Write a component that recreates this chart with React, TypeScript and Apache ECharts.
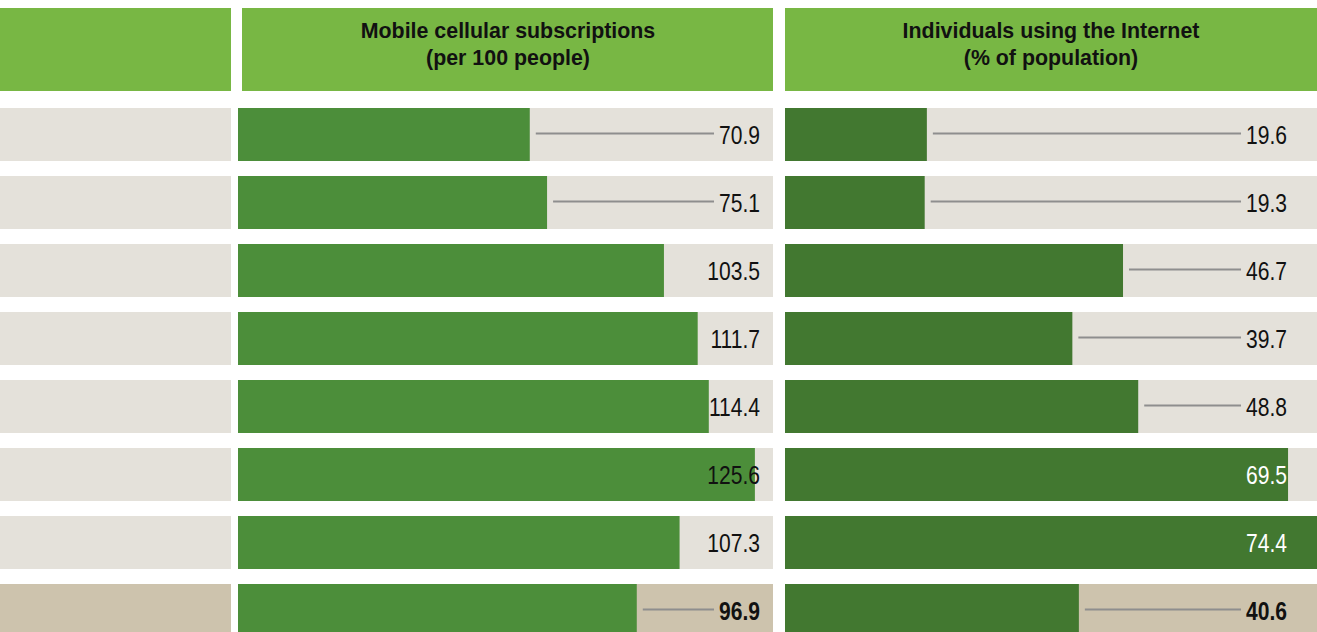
import React, { useEffect, useRef } from "react";
import * as echarts from "echarts";

// Row identifiers (the label column is blank in the reference)
const categories = ["r1", "r2", "r3", "r4", "r5", "r6", "r7", "r8"];
const mobileSubscriptions = [70.9, 75.1, 103.5, 111.7, 114.4, 125.6, 107.3, 96.9];
const internetUsers = [19.6, 19.3, 46.7, 39.7, 48.8, 69.5, 74.4, 40.6];
const columnTitles = [
  "Mobile cellular subscriptions\n(per 100 people)",
  "Individuals using the Internet\n(% of population)",
];
const summaryRow = 7;
const mobileAxisMax = 130;
const internetAxisMax = 73.5;

const FONT_FAMILY = '"Liberation Sans", Arial, sans-serif';
const LABEL_SIZE = 26;
const NARROW = 0.81;

const HEADER_GREEN = "#78b744";
const ROW_GRAY = "#e4e1da";
const ROW_SUMMARY = "#cdc3ad";
const BAR_MOBILE = "#4c8e3a";
const BAR_INTERNET = "#427830";

let measureCtx: CanvasRenderingContext2D | null = null;
function measure(text: string, bold: boolean): number {
  if (!measureCtx) measureCtx = document.createElement("canvas").getContext("2d");
  if (!measureCtx) return text.length * 11;
  measureCtx.font = `${bold ? "bold " : ""}${LABEL_SIZE}px ${FONT_FAMILY}`;
  return measureCtx.measureText(text).width * NARROW;
}

export default function App() {
  const ref = useRef<HTMLDivElement>(null);

  useEffect(() => {
    document.body.style.margin = "0";
    if (!ref.current) return;
    const chart = echarts.init(ref.current, null, { renderer: "svg" });

    const gridTop = 100.5;
    const gridHeight = 544;
    const grids = [
      { left: 0, width: 231 },
      { left: 238, width: 535 },
      { left: 785, width: 532 },
    ];
    const maxes = [1, mobileAxisMax, internetAxisMax];

    const rowColor = (i: number) => (i === summaryRow ? ROW_SUMMARY : ROW_GRAY);

    const labelSeries = (gi: number, values: number[], rightPad: number, insideColor: string) => ({
      type: "custom",
      xAxisIndex: gi,
      yAxisIndex: gi,
      silent: true,
      z: 5,
      clip: false,
      data: values.map((v, i) => [v, i]),
      encode: { x: 0, y: 1 },
      renderItem: (params: any, api: any) => {
        const v = api.value(0) as number;
        const i = api.value(1) as number;
        const cs = params.coordSys;
        const end = api.coord([v, i]);
        const barEnd = Math.min(end[0], cs.x + cs.width);
        const right = cs.x + cs.width - rightPad;
        const bold = i === summaryRow;
        const text = v.toFixed(1);
        const w = measure(text, bold);
        const labelLeft = right - w;
        const inside = barEnd > labelLeft;
        const children: any[] = [];
        const x1 = barEnd + 6;
        const x2 = labelLeft - 5;
        if (x2 - x1 > 60) {
          children.push({
            type: "line",
            shape: { x1, y1: end[1] - 1, x2, y2: end[1] - 1 },
            style: { stroke: "#8e8e8e", lineWidth: 2 },
          });
        }
        children.push({
          type: "text",
          x: right,
          y: end[1] + 1,
          scaleX: NARROW,
          style: {
            text,
            fill: inside ? insideColor : "#111111",
            font: `${bold ? "bold " : ""}${LABEL_SIZE}px ${FONT_FAMILY}`,
            align: "right",
            verticalAlign: "middle",
          },
        });
        return { type: "group", children };
      },
    });

    const bgSeries = (gi: number) => ({
      type: "bar",
      xAxisIndex: gi,
      yAxisIndex: gi,
      silent: true,
      barWidth: 53,
      barGap: "-100%",
      data: categories.map((_, i) => ({ value: maxes[gi], itemStyle: { color: rowColor(i) } })),
    });

    const headerText = (x: number, text: string) => ({
      type: "text",
      x,
      y: 44,
      scaleX: 0.93,
      silent: true,
      style: {
        text,
        fill: "#111111",
        font: `bold 23px ${FONT_FAMILY}`,
        lineHeight: 27,
        align: "center",
        verticalAlign: "middle",
      },
    });

    const option: any = {
      animation: false,
      grid: grids.map((g) => ({ left: g.left, width: g.width, top: gridTop, height: gridHeight, containLabel: false })),
      xAxis: grids.map((_, gi) => ({
        type: "value",
        gridIndex: gi,
        min: 0,
        max: maxes[gi],
        show: false,
      })),
      yAxis: grids.map((_, gi) => ({
        type: "category",
        gridIndex: gi,
        data: categories,
        inverse: true,
        show: false,
      })),
      series: [
        bgSeries(0),
        bgSeries(1),
        {
          type: "bar",
          xAxisIndex: 1,
          yAxisIndex: 1,
          silent: true,
          barWidth: 53,
          barGap: "-100%",
          clip: true,
          itemStyle: { color: BAR_MOBILE },
          data: mobileSubscriptions,
        },
        labelSeries(1, mobileSubscriptions, 13, "#111111"),
        bgSeries(2),
        {
          type: "bar",
          xAxisIndex: 2,
          yAxisIndex: 2,
          silent: true,
          barWidth: 53,
          barGap: "-100%",
          clip: true,
          itemStyle: { color: BAR_INTERNET },
          data: internetUsers,
        },
        labelSeries(2, internetUsers, 30, "#ffffff"),
      ],
      graphic: [
        { type: "rect", shape: { x: 0, y: 8, width: 231, height: 83 }, style: { fill: HEADER_GREEN }, silent: true },
        { type: "rect", shape: { x: 242, y: 8, width: 531, height: 83 }, style: { fill: HEADER_GREEN }, silent: true },
        { type: "rect", shape: { x: 785, y: 8, width: 532, height: 83 }, style: { fill: HEADER_GREEN }, silent: true },
        headerText(508, columnTitles[0]),
        headerText(1051, columnTitles[1]),
      ],
    };

    chart.setOption(option);
    return () => chart.dispose();
  }, []);

  return (
    <div style={{ width: 1317, height: 632, overflow: "hidden" }}>
      <div ref={ref} style={{ width: 1317, height: 660 }} />
    </div>
  );
}
